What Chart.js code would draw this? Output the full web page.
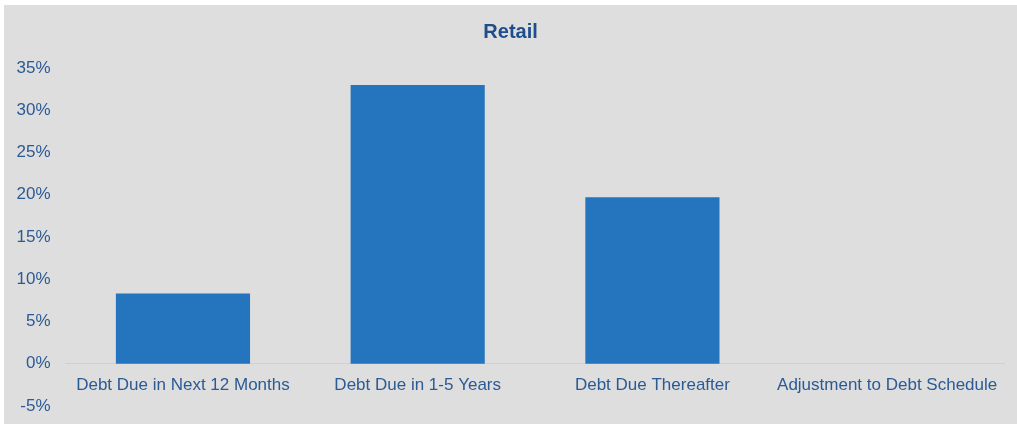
<!DOCTYPE html>
<html>
<head>
<meta charset="utf-8">
<script src="https://cdn.jsdelivr.net/npm/chart.js@4"></script>
<style>
  html, body { margin: 0; padding: 0; background: #ffffff; }
  #wrap { position: absolute; left: 4px; top: 5px; width: 1013px; height: 419px; background: #dedede; }
  canvas { display: block; }
</style>
</head>
<body>
<div id="wrap"><canvas id="chart" width="1013" height="419"></canvas></div>
<script>
// Debt maturity profile, retail segment (share of total debt)
const chartTitle = 'Retail';
const categories = [
  'Debt Due in Next 12 Months',
  'Debt Due in 1-5 Years',
  'Debt Due Thereafter',
  'Adjustment to Debt Schedule'
];
const shareOfDebt = [8.3, 33.0, 19.7, 0];
const yTickValues = [35, 30, 25, 20, 15, 10, 5, 0, -5];

const tickColor = '#2b5a94';
const barColor = '#2474be';
const fontFamily = '"Liberation Sans", Arial, sans-serif';

new Chart(document.getElementById('chart'), {
  type: 'bar',
  data: {
    labels: categories,
    datasets: [{
      data: shareOfDebt,
      backgroundColor: barColor,
      borderWidth: 0,
      barPercentage: 0.635,
      categoryPercentage: 0.9
    }]
  },
  options: {
    responsive: false,
    animation: false,
    devicePixelRatio: 1,
    layout: { padding: { left: 12.6, right: 12.5, top: 0, bottom: 18 } },
    plugins: {
      legend: { display: false },
      tooltip: { enabled: false },
      title: {
        display: true,
        text: chartTitle,
        color: '#1f4e8c',
        font: { family: fontFamily, size: 20, weight: 'bold' },
        padding: { top: 15, bottom: 24 }
      }
    },
    scales: {
      x: {
        position: { y: 0 },
        grid: { display: false, drawTicks: false },
        border: { display: true, color: '#d0d0d0', width: 1 },
        ticks: {
          color: tickColor,
          font: { family: fontFamily, size: 17 },
          padding: 11,
          maxRotation: 0,
          autoSkip: false
        }
      },
      y: {
        min: -5,
        max: 35,
        grid: { display: false, drawTicks: false },
        border: { display: false },
        afterBuildTicks: (scale) => {
          scale.ticks = yTickValues.map(v => ({ value: v }));
        },
        afterFit: (scale) => {
          scale.width = 49;
          scale.paddingTop = 0;
          scale.paddingBottom = 0;
        },
        ticks: {
          color: tickColor,
          font: { family: fontFamily, size: 17 },
          padding: 15,
          callback: (v) => v + '%'
        }
      }
    }
  }
});
</script>
</body>
</html>
